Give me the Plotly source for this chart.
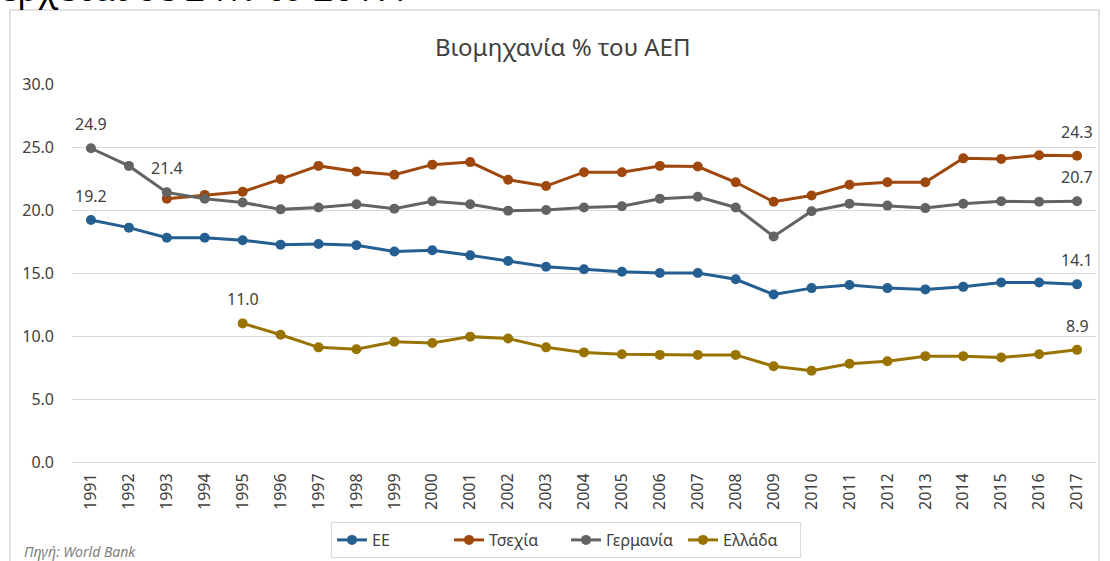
import plotly.graph_objects as go

years = [str(y) for y in range(1991, 2018)]

eu = [19.2, 18.6, 17.8, 17.8, 17.6, 17.25, 17.3, 17.2, 16.7, 16.8, 16.4, 15.95, 15.5, 15.3,
      15.1, 15.0, 15.0, 14.5, 13.3, 13.8, 14.05, 13.8, 13.7, 13.9, 14.25, 14.25, 14.1]
czech = [None, None, 20.9, 21.2, 21.45, 22.45, 23.5, 23.05, 22.8, 23.6, 23.8, 22.4, 21.9, 23.0,
         23.0, 23.5, 23.45, 22.2, 20.65, 21.15, 22.0, 22.2, 22.2, 24.1, 24.05, 24.35, 24.3]
germany = [24.9, 23.5, 21.4, 20.9, 20.6, 20.05, 20.2, 20.45, 20.1, 20.7, 20.45, 19.95, 20.0, 20.2,
           20.3, 20.9, 21.05, 20.2, 17.9, 19.9, 20.5, 20.35, 20.15, 20.5, 20.7, 20.65, 20.7]
greece = [None, None, None, None, 11.0, 10.1, 9.1, 8.95, 9.55, 9.45, 9.95, 9.8, 9.1, 8.7,
          8.55, 8.5, 8.5, 8.5, 7.6, 7.25, 7.8, 8.0, 8.4, 8.4, 8.3, 8.55, 8.9]

names = ["ΕΕ", "Τσεχία", "Γερμανία", "Ελλάδα"]
colors = ["#255E91", "#9E480E", "#636363", "#997300"]
series = [eu, czech, germany, greece]
# indices of points carrying a data label
label_idx = [[0, 26], [26], [0, 2, 26], [4, 26]]

title = "Βιομηχανία % του ΑΕΠ"
source = "Πηγή: World Bank"
top_text = "έρχεται σε 24% το 2017."

FONT = "Noto Sans"
TXT = "#404040"

# plot area in pixels
L, R, T, B = 72, 1096, 84, 462
W, H = 1110, 561
pw, ph = R - L, B - T


def px(x):
    return (x - L) / pw


def py(y):
    return (B - y) / ph


fig = go.Figure()
for name, col, vals in zip(names, colors, series):
    fig.add_trace(go.Scatter(
        x=years, y=vals, name=name, mode="lines+markers",
        line=dict(color=col, width=3),
        marker=dict(color=col, size=10),
        connectgaps=False,
    ))

annotations = []
for vals, idxs in zip(series, label_idx):
    for i in idxs:
        annotations.append(dict(
            x=i, y=vals[i], xref="x", yref="y",
            text=f"{vals[i]:.1f}", showarrow=False, yshift=24,
            font=dict(family=FONT, size=16, color=TXT),
        ))

annotations.append(dict(
    x=px(562), y=py(46), xref="paper", yref="paper", text=title,
    showarrow=False, xanchor="center", yanchor="middle",
    font=dict(family=FONT, size=24, color=TXT),
))
annotations.append(dict(
    x=px(22), y=py(551), xref="paper", yref="paper", text=f"<i>{source}</i>",
    showarrow=False, xanchor="left", yanchor="middle",
    font=dict(family=FONT, size=14, color="#7F7F7F"),
))
annotations.append(dict(
    x=px(-2), y=py(14), xref="paper", yref="paper", text=top_text,
    showarrow=False, xanchor="left", yanchor="bottom",
    font=dict(family="Open Sans", size=36, color="#000000"),
))

shapes = [dict(
    type="rect", xref="paper", yref="paper",
    x0=px(10), x1=px(1099), y0=py(580), y1=py(10),
    line=dict(color="#D9D9D9", width=1.5), fillcolor="rgba(0,0,0,0)", layer="below",
)]

fig.update_layout(
    width=W, height=H,
    margin=dict(l=L, r=W - R, t=T, b=H - B, autoexpand=False),
    paper_bgcolor="white", plot_bgcolor="white",
    font=dict(family=FONT, color=TXT),
    showlegend=True,
    legend=dict(
        orientation="h", x=px(566), y=py(540), xanchor="center", yanchor="middle",
        bordercolor="#D9D9D9", borderwidth=1, font=dict(family=FONT, size=16, color=TXT),
        bgcolor="white", entrywidth=72, entrywidthmode="pixels",
    ),
    annotations=annotations,
    shapes=shapes,
    xaxis=dict(
        type="category", range=[-0.5, 26.5], tickangle=-90, showgrid=False, showline=True,
        linecolor="#D9D9D9", linewidth=1, ticks="", automargin=False, ticklabelstandoff=4,
        tickfont=dict(family=FONT, size=16, color=TXT),
    ),
    yaxis=dict(
        range=[0, 30], dtick=5, tickformat=".1f", showgrid=True, gridcolor="#D9D9D9",
        zeroline=False, showline=False, ticks="", automargin=False, ticklabelstandoff=17,
        tickfont=dict(family=FONT, size=16, color=TXT),
    ),
)

fig.write_html("out.html", config={"displayModeBar": False},
               post_script="document.body.style.margin='0';")
